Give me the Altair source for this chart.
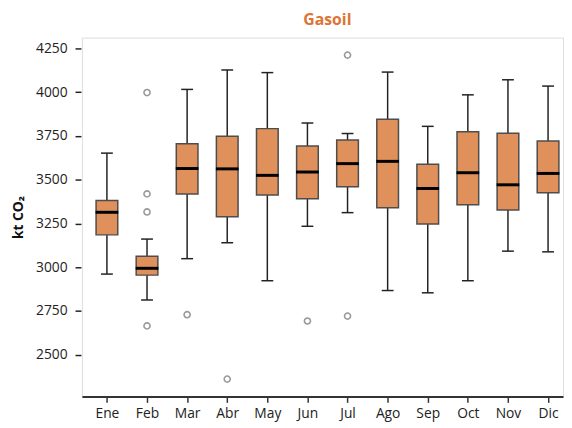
import altair as alt
import pandas as pd

months = ["Ene", "Feb", "Mar", "Abr", "May", "Jun", "Jul", "Ago", "Sep", "Oct", "Nov", "Dic"]
whisker_low = [2961, 2813, 3049, 3140, 2923, 3234, 3312, 2867, 2854, 2923, 3092, 3088]
q1 = [3185, 2955, 3419, 3288, 3413, 3391, 3460, 3340, 3247, 3357, 3327, 3426]
median = [3314, 2994, 3564, 3562, 3525, 3544, 3592, 3605, 3450, 3540, 3471, 3536]
q3 = [3381, 3063, 3705, 3749, 3792, 3693, 3727, 3846, 3589, 3774, 3766, 3721]
whisker_high = [3652, 3161, 4016, 4127, 4112, 3824, 3764, 4115, 3805, 3985, 4071, 4035]

outlier_month = ["Feb", "Feb", "Feb", "Feb", "Mar", "Abr", "Jun", "Jul", "Jul"]
outlier_value = [3998, 3419, 3316, 2665, 2729, 2361, 2693, 4212, 2721]

y_ticks = [2500, 2750, 3000, 3250, 3500, 3750, 4000, 4250]

stats = pd.DataFrame({
    "idx": list(range(len(months))),
    "month": months,
    "lo": whisker_low,
    "q1": q1,
    "med": median,
    "q3": q3,
    "hi": whisker_high,
})
outl = pd.DataFrame({
    "idx": [months.index(m) for m in outlier_month],
    "value": outlier_value,
})

FONT = "Open Sans"
label_expr = "[" + ",".join(f"'{m}'" for m in months) + "][datum.value]"

x_enc = alt.X(
    "idx:Q",
    scale=alt.Scale(domain=[-0.5, 11.25], nice=False, zero=False),
    axis=alt.Axis(
        values=list(range(len(months))),
        labelExpr=label_expr,
        title=None,
        grid=False,
        domainColor="#333333",
        domainWidth=2,
        tickColor="#333333",
        tickWidth=1.5,
        tickSize=6,
        labelPadding=4,
        labelFontSize=14,
        labelColor="#222222",
        labelFont=FONT,
    ),
)
y_scale = alt.Scale(domain=[2262, 4312], nice=False, zero=False)
y_axis = alt.Axis(
    values=y_ticks,
    format="d",
    title="kt CO₂",
    titleFont=FONT,
    titleFontSize=14,
    titleFontWeight="bold",
    titleColor="#111111",
    titleAngle=270,
    titleAlign="center",
    titleBaseline="middle",
    titleX=-63,
    titleY=182,
    grid=False,
    domain=False,
    tickColor="#222222",
    tickWidth=1.5,
    tickSize=6,
    offset=1,
    labelPadding=8,
    labelFontSize=14,
    labelColor="#222222",
    labelFont=FONT,
)

base = alt.Chart(stats)

whiskers = base.mark_rule(color="#222222", strokeWidth=1.5).encode(
    x=x_enc,
    y=alt.Y("lo:Q", scale=y_scale, axis=y_axis),
    y2="hi:Q",
)
caps_lo = base.mark_tick(orient="horizontal", size=12, thickness=1.5, color="#222222", opacity=1).encode(
    x="idx:Q", y="lo:Q"
)
caps_hi = base.mark_tick(orient="horizontal", size=12, thickness=1.5, color="#222222", opacity=1).encode(
    x="idx:Q", y="hi:Q"
)
boxes = base.mark_bar(
    size=22, color="#E0905A", stroke="#4d4d4d", strokeWidth=1.5, opacity=1
).encode(x="idx:Q", y="q1:Q", y2="q3:Q")
medians = base.mark_tick(orient="horizontal", size=23, thickness=3, color="#000000", opacity=1).encode(
    x="idx:Q", y="med:Q"
)
points = alt.Chart(outl).mark_point(
    shape="circle", filled=False, size=38, color="#999999", strokeWidth=1.6, opacity=1
).encode(x="idx:Q", y="value:Q")

chart = (
    alt.layer(whiskers, caps_lo, caps_hi, boxes, medians, points)
    .properties(
        width=488,
        height=364,
        title=alt.TitleParams(
            "Gasoil",
            font=FONT,
            fontSize=16,
            fontWeight="bold",
            color="#DD7433",
            anchor="middle",
            dx=5,
            offset=10,
        ),
        autosize=alt.AutoSizeParams(type="none"),
        padding={"left": 75, "top": 27, "right": 1, "bottom": 29},
    )
    .configure_view(stroke=None)
    .configure_axis(grid=False)
    .configure(background="white")
)

chart.save("out.html", embed_options={"renderer": "svg", "actions": False})
